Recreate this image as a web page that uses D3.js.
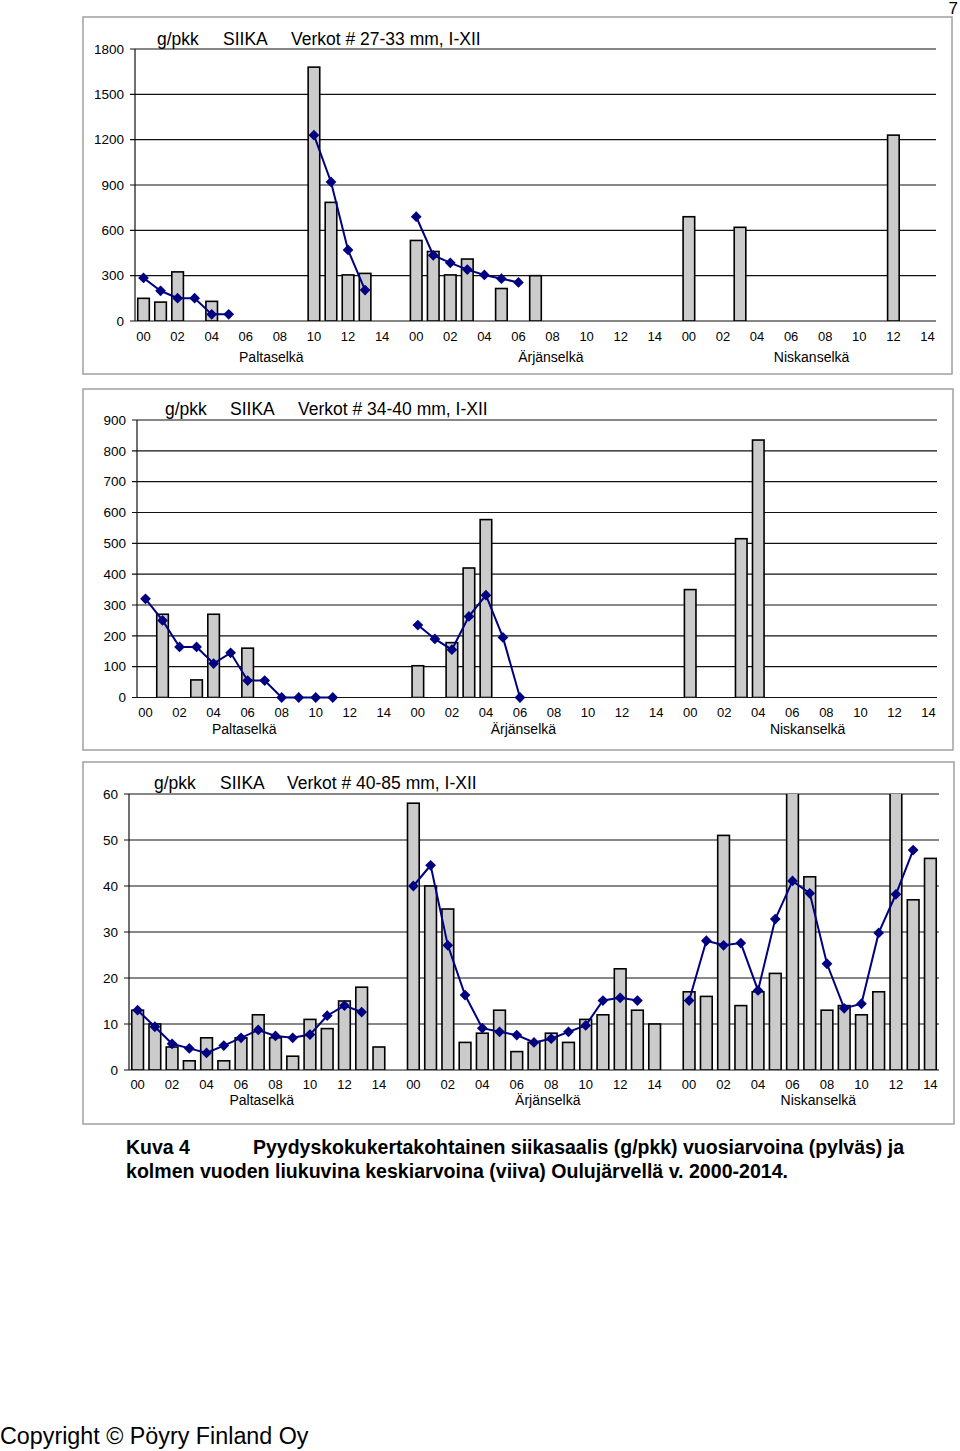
<!DOCTYPE html>
<html>
<head>
<meta charset="utf-8">
<script src="https://cdn.jsdelivr.net/npm/d3@7/dist/d3.min.js"></script>
<style>
  body { margin: 0; background: #fff; }
  svg { display: block; font-family: "Liberation Sans", Arial, Helvetica, sans-serif; }
</style>
</head>
<body>
<svg id="page" width="960" height="1451"></svg>
<script>
// categories
var regions = ["Paltaselkä", "Ärjänselkä", "Niskanselkä"];
var years = ["00","01","02","03","04","05","06","07","08","09","10","11","12","13","14"];

// g/pkk per year, one row per region (null = no bar / no point)
var bars2733 = [
  [150, 125, 325, 0, 130, 0, 0, 0, 0, 0, 1680, 785, 305, 315, null],
  [533, 460, 305, 410, null, 215, null, 300, null, null, null, null, null, null, null],
  [690, null, null, 620, null, null, null, null, null, null, null, null, 1230, null, null]
];
var line2733 = [
  [285, 200, 151, 151, 44, 44, null, null, null, null, 1230, 920, 470, 205, null],
  [690, 435, 385, 340, 305, 280, 255, null, null, null, null, null, null, null, null],
  [null, null, null, null, null, null, null, null, null, null, null, null, null, null, null]
];

var bars3440 = [
  [null, 270, null, 57, 270, null, 160, null, null, null, null, null, null, null, null],
  [103, null, 178, 420, 577, null, null, null, null, null, null, null, null, null, null],
  [350, null, null, 515, 835, null, null, null, null, null, null, null, null, null, null]
];
var line3440 = [
  [320, 250, 164, 164, 110, 145, 55, 55, 0, 0, 0, 0, null, null, null],
  [235, 190, 155, 263, 332, 195, 0, null, null, null, null, null, null, null, null],
  [null, null, null, null, null, null, null, null, null, null, null, null, null, null, null]
];

var bars4085 = [
  [13, 10, 5, 2, 7, 2, 7, 12, 7, 3, 11, 9, 15, 18, 5],
  [58, 40, 35, 6, 8, 13, 4, 6, 8, 6, 11, 12, 22, 13, 10],
  [17, 16, 51, 14, 17, 21, 61, 42, 13, 14, 12, 17, 61, 37, 46]
];
var line4085 = [
  [13, 9.4, 5.7, 4.7, 3.7, 5.3, 7.0, 8.7, 7.4, 7.0, 7.7, 11.8, 14.0, 12.6, null],
  [40, 44.5, 27.1, 16.3, 9.1, 8.3, 7.6, 6.0, 6.8, 8.3, 9.7, 15.1, 15.7, 15.1, null],
  [15.1, 28.1, 27.1, 27.6, 17.3, 32.8, 41.1, 38.4, 23.1, 13.4, 14.4, 29.8, 38.2, 47.8, null]
];

var titles = ["Verkot # 27-33 mm, I-XII", "Verkot # 34-40 mm, I-XII", "Verkot # 40-85 mm, I-XII"];

// layout of the three panels
var charts = [
  { bars: bars2733, line: line2733, title: titles[0], yMax: 1800, step: 300,
    box: [83, 17, 952, 374], left: 135, right: 936, top: 49, bottom: 321,
    titleY: 39, titleX: [157, 223, 291], tickY: 336, regionY: 357, regionAt: [7.5, 23.9, 39.2], id: "c1" },
  { bars: bars3440, line: line3440, title: titles[1], yMax: 900, step: 100,
    box: [83, 389, 953, 750], left: 137, right: 937, top: 420, bottom: 697.5,
    titleY: 409, titleX: [165, 230, 298], tickY: 712, regionY: 729, regionAt: [5.8, 22.2, 38.9], id: "c2" },
  { bars: bars4085, line: line4085, title: titles[2], yMax: 60, step: 10,
    box: [83, 762, 954, 1124], left: 129, right: 939, top: 794, bottom: 1070,
    titleY: 783, titleX: [154, 220, 287], tickY: 1084, regionY: 1100, regionAt: [7.2, 23.8, 39.5], id: "c3" }
];

var svg = d3.select("#page");

// 16 slots per region (15 years + empty slot), last region without the trailing gap
var nSlots = regions.length * (years.length + 1) - 1;
function slotOf(r, i) { return r * (years.length + 1) + i; }

charts.forEach(function(c) {
  var g = svg.append("g");

  g.append("rect")
    .attr("x", c.box[0]).attr("y", c.box[1])
    .attr("width", c.box[2] - c.box[0]).attr("height", c.box[3] - c.box[1])
    .attr("fill", "#fff").attr("stroke", "#a0a0a0").attr("stroke-width", 1.5);

  var x = d3.scaleBand().domain(d3.range(nSlots)).range([c.left, c.right]).paddingInner(0.32).paddingOuter(0.16);
  var y = d3.scaleLinear().domain([0, c.yMax]).range([c.bottom, c.top]);

  // gridlines + y labels
  var ticks = d3.range(0, c.yMax + 1, c.step);
  g.selectAll("line.grid").data(ticks).enter().append("line")
    .attr("x1", c.left - 5).attr("x2", c.right)
    .attr("y1", function(d) { return y(d); }).attr("y2", function(d) { return y(d); })
    .attr("stroke", "#111").attr("stroke-width", 1.1);
  g.selectAll("text.ytick").data(ticks).enter().append("text")
    .attr("x", c.left - 11).attr("y", function(d) { return y(d); })
    .attr("dy", "0.35em").attr("text-anchor", "end")
    .attr("font-size", 13.5).text(function(d) { return d; });

  g.append("line").attr("x1", c.left).attr("x2", c.left).attr("y1", c.top).attr("y2", c.bottom)
    .attr("stroke", "#111").attr("stroke-width", 1.2);

  // x labels: every second year
  var xlab = [];
  regions.forEach(function(r, ri) {
    years.forEach(function(yy, i) { if (i % 2 === 0) xlab.push({ s: slotOf(ri, i), t: yy }); });
  });
  g.selectAll("text.xtick").data(xlab).enter().append("text")
    .attr("x", function(d) { return x(d.s) + x.bandwidth() / 2; })
    .attr("y", c.tickY).attr("dy", "0.35em").attr("text-anchor", "middle")
    .attr("font-size", 13).text(function(d) { return d.t; });

  var step = x.step();
  g.selectAll("text.region").data(regions).enter().append("text")
    .attr("x", function(d, i) { return x(0) + x.bandwidth() / 2 + c.regionAt[i] * step; })
    .attr("y", c.regionY).attr("dy", "0.35em").attr("text-anchor", "middle")
    .attr("font-size", 14).text(function(d) { return d; });

  // title
  [ "g/pkk", "SIIKA", c.title ].forEach(function(t, i) {
    g.append("text").attr("x", c.titleX[i]).attr("y", c.titleY).attr("dy", "0.35em")
      .attr("font-size", 17.5).text(t);
  });

  // clip for values above the axis max
  svg.append("clipPath").attr("id", "clip" + c.id).append("rect")
    .attr("x", c.left).attr("y", c.top).attr("width", c.right - c.left).attr("height", c.bottom - c.top);

  var barData = [];
  c.bars.forEach(function(row, ri) {
    row.forEach(function(v, i) { if (v) barData.push({ s: slotOf(ri, i), v: v }); });
  });
  g.append("g").attr("clip-path", "url(#clip" + c.id + ")")
    .selectAll("rect").data(barData).enter().append("rect")
    .attr("x", function(d) { return x(d.s); })
    .attr("y", function(d) { return y(d.v); })
    .attr("width", x.bandwidth())
    .attr("height", function(d) { return c.bottom - y(d.v); })
    .attr("fill", "#cbcbcb").attr("stroke", "#000").attr("stroke-width", 1.6);

  // moving average line per region
  var line = d3.line()
    .defined(function(d) { return d.v !== null; })
    .x(function(d) { return x(d.s) + x.bandwidth() / 2; })
    .y(function(d) { return y(d.v); });
  var diamond = d3.symbol().type(d3.symbolSquare).size(58);
  c.line.forEach(function(row, ri) {
    var pts = row.map(function(v, i) { return { s: slotOf(ri, i), v: v }; });
    g.append("path").datum(pts).attr("d", line)
      .attr("fill", "none").attr("stroke", "#000080").attr("stroke-width", 2);
    g.selectAll(null).data(pts.filter(function(d) { return d.v !== null; })).enter().append("path")
      .attr("d", diamond)
      .attr("transform", function(d) { return "translate(" + (x(d.s) + x.bandwidth() / 2) + "," + y(d.v) + ") rotate(45)"; })
      .attr("fill", "#000080");
  });
});

// page number, caption, footer
svg.append("text").attr("x", 958).attr("y", 14).attr("text-anchor", "end").attr("font-size", 17).text("7");

var cap = svg.append("g").attr("font-family", "'Liberation Sans Narrow', 'Arial Narrow', 'Liberation Sans', sans-serif")
  .attr("font-weight", "bold").attr("font-size", 19.5);
cap.append("text").attr("x", 126).attr("y", 1154).text("Kuva 4");
cap.append("text").attr("x", 253).attr("y", 1154).attr("textLength", 651).attr("lengthAdjust", "spacingAndGlyphs")
  .text("Pyydyskokukertakohtainen siikasaalis (g/pkk) vuosiarvoina (pylväs) ja");
cap.append("text").attr("x", 126).attr("y", 1178).attr("textLength", 662).attr("lengthAdjust", "spacingAndGlyphs")
  .text("kolmen vuoden liukuvina keskiarvoina (viiva) Oulujärvellä v. 2000-2014.");

svg.append("text").attr("x", 0).attr("y", 1444).attr("font-size", 23.3).text("Copyright © Pöyry Finland Oy");
</script>
</body>
</html>
